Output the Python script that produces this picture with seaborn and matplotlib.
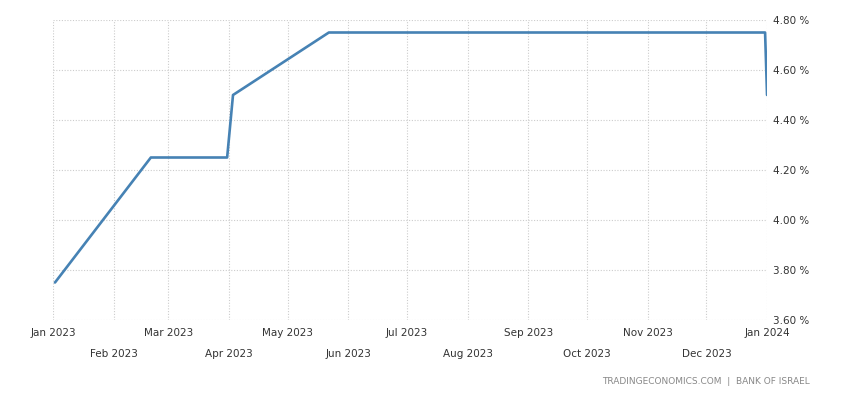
import numpy as np
import pandas as pd
import matplotlib
matplotlib.use("Agg")
import matplotlib.pyplot as plt
import matplotlib.dates as mdates
import seaborn as sns

# Bank of Israel interest rate (policy decisions)
fechas = ["2023-01-02", "2023-02-20", "2023-03-31", "2023-04-03",
          "2023-05-22", "2023-12-31", "2024-01-01"]
tasas = [3.75, 4.25, 4.25, 4.50, 4.75, 4.75, 4.50]
y_ticks = [3.60, 3.80, 4.00, 4.20, 4.40, 4.60, 4.80]
fuente = "TRADINGECONOMICS.COM  |  BANK OF ISRAEL"

df = pd.DataFrame({"fecha": pd.to_datetime(fechas), "tasa": tasas})

sns.set_style("white")
plt.rcParams["font.family"] = ["DejaVu Sans"]

fig = plt.figure(figsize=(8.5, 4), dpi=100)
ax = fig.add_axes([0.0624, 0.2, 0.84, 0.75])

sns.lineplot(data=df, x="fecha", y="tasa", ax=ax, color="#4682b4", linewidth=1.9)

meses = pd.date_range("2023-01-01", "2024-01-01", freq="MS")
ax.set_xticks(meses)
etiquetas = []
for i, m in enumerate(meses):
    txt = m.strftime("%b %Y")
    etiquetas.append(txt if i % 2 == 0 else "\n" + txt)
ax.set_xticklabels(etiquetas, fontsize=7.5, color="#333333", linespacing=2.3)
ax.set_xlim(meses[0], meses[-1])

ax.set_ylim(3.60, 4.80)
ax.set_yticks(y_ticks)
ax.set_yticklabels([f"{v:.2f} %" for v in y_ticks], fontsize=7.5, color="#333333")
ax.yaxis.tick_right()
ax.tick_params(axis="both", length=0, pad=4)
ax.tick_params(axis="x", pad=6)

ax.grid(True, color="#cccccc", linestyle=(0, (1, 1.5)), linewidth=0.8)
for s in ax.spines.values():
    s.set_visible(False)
ax.set_xlabel("")
ax.set_ylabel("")

fig.text(0.953, 0.045, fuente, ha="right", va="center", fontsize=6.5, color="#888888")

fig.savefig("out.png", dpi=100)
